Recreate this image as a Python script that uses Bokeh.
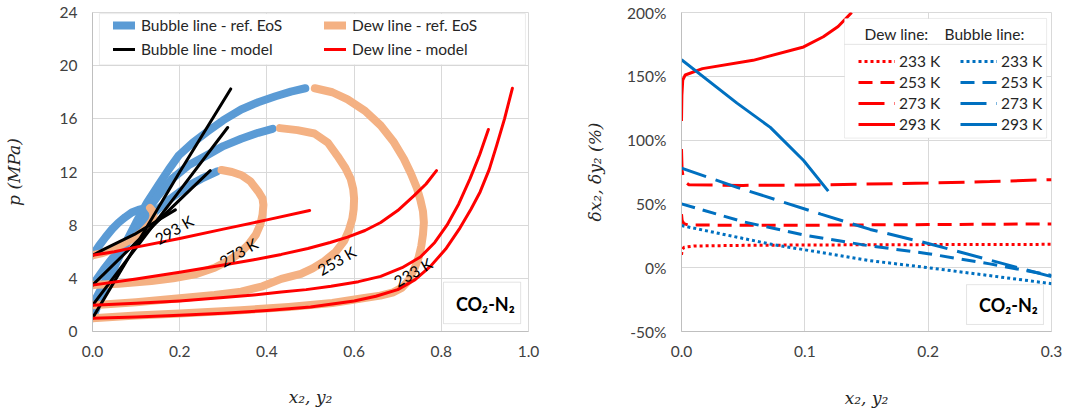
from bokeh.plotting import figure
from bokeh.models import (Legend, LegendItem, BoxAnnotation, Label, FixedTicker,
                          PrintfTickFormatter, Range1d)
from bokeh.layouts import row
from bokeh.embed import file_html
from bokeh.resources import INLINE

# ================= Panel a : p vs x2, y2 (MPa) =================
# Bubble line - reference EoS
bub_ref_233_x = [0.0, 0.025, 0.05, 0.075, 0.10, 0.125, 0.151, 0.175, 0.198, 0.23, 0.262, 0.30, 0.341, 0.38, 0.42, 0.455, 0.488]
bub_ref_233_p = [1.0, 3.0, 4.8, 6.6, 8.2, 9.7, 11.0, 12.2, 13.25, 14.2, 15.0, 15.9, 16.7, 17.25, 17.7, 18.05, 18.3]
bub_ref_253_x = [0.0, 0.025, 0.05, 0.075, 0.10, 0.125, 0.15, 0.183, 0.22, 0.262, 0.30, 0.341, 0.38, 0.413]
bub_ref_253_p = [1.97, 3.55, 5.0, 6.45, 7.8, 9.05, 10.2, 11.5, 12.5, 13.25, 13.95, 14.5, 14.95, 15.25]
bub_ref_273_x = [0.0, 0.025, 0.05, 0.075, 0.10, 0.125, 0.15, 0.175, 0.20, 0.225, 0.25, 0.286]
bub_ref_273_p = [3.49, 4.65, 5.7, 6.7, 7.6, 8.45, 9.2, 9.9, 10.5, 11.05, 11.5, 12.05]
bub_ref_293_x = [0.0, 0.015, 0.03, 0.045, 0.06, 0.075, 0.09, 0.105, 0.123]
bub_ref_293_p = [5.73, 6.45, 7.1, 7.7, 8.2, 8.6, 8.95, 9.15, 9.3]

# Dew line - reference EoS
dew_ref_233_x = [0.51, 0.55, 0.585, 0.625, 0.661, 0.69, 0.714, 0.73, 0.744, 0.752, 0.758, 0.76, 0.758, 0.754,
                 0.748, 0.738, 0.725, 0.71, 0.69, 0.66, 0.62, 0.55, 0.45, 0.34, 0.2, 0.1, 0.0]
dew_ref_233_p = [18.3, 18.0, 17.46, 16.6, 15.5, 14.3, 13.0, 11.9, 10.8, 9.9, 9.04, 8.2, 7.3, 6.4,
                 5.57, 4.7, 3.84, 3.3, 2.95, 2.7, 2.5, 2.15, 1.85, 1.6, 1.35, 1.2, 1.0]
dew_ref_253_x = [0.43, 0.47, 0.509, 0.54, 0.562, 0.58, 0.592, 0.598, 0.60, 0.599, 0.596, 0.588, 0.577, 0.558,
                 0.532, 0.505, 0.478, 0.433, 0.39, 0.341, 0.28, 0.2, 0.1, 0.0]
dew_ref_253_p = [15.3, 15.15, 14.9, 14.2, 13.2, 12.3, 11.5, 10.7, 10.0, 9.2, 8.5, 7.6, 6.8, 6.0,
                 5.3, 4.75, 4.33, 3.96, 3.4, 3.0, 2.75, 2.5, 2.2, 1.97]
dew_ref_273_x = [0.296, 0.32, 0.342, 0.362, 0.381, 0.39, 0.392, 0.39, 0.385, 0.375, 0.358, 0.338, 0.312, 0.28,
                 0.235, 0.185, 0.135, 0.06, 0.0]
dew_ref_273_p = [12.15, 12.0, 11.76, 11.3, 10.5, 10.0, 9.53, 8.8, 8.05, 7.3, 6.56, 5.9, 5.33, 4.8,
                 4.3, 4.0, 3.8, 3.6, 3.49]
dew_ref_293_x = [0.132, 0.138, 0.14, 0.137, 0.128, 0.115, 0.096, 0.075, 0.058, 0.04, 0.02, 0.0]
dew_ref_293_p = [9.3, 9.05, 8.7, 8.35, 7.95, 7.5, 7.06, 6.7, 6.4, 6.1, 5.88, 5.73]

# Bubble line - model
bub_mod_233_x = [0.0, 0.1, 0.2, 0.317]
bub_mod_233_p = [1.0, 6.5, 12.0, 18.25]
bub_mod_253_x = [0.0, 0.1, 0.2, 0.31]
bub_mod_253_p = [1.97, 6.3, 10.6, 15.35]
bub_mod_273_x = [0.0, 0.1, 0.2, 0.27]
bub_mod_273_p = [3.49, 6.7, 9.9, 12.1]
bub_mod_293_x = [0.0, 0.027, 0.096, 0.19]
bub_mod_293_p = [5.73, 6.2, 7.3, 9.15]

# Dew line - model
dew_mod_233_x = [0.0, 0.1, 0.2, 0.3, 0.4, 0.5, 0.6, 0.65, 0.7, 0.74, 0.775, 0.81, 0.843, 0.868, 0.889, 0.91, 0.927, 0.945, 0.963]
dew_mod_233_p = [1.0, 1.1, 1.22, 1.38, 1.58, 1.85, 2.3, 2.65, 3.15, 3.9, 4.9, 6.2, 7.8, 9.2, 10.5, 12.2, 14.0, 16.0, 18.3]
dew_mod_253_x = [0.0, 0.1, 0.2, 0.3, 0.37, 0.433, 0.49, 0.547, 0.61, 0.661, 0.71, 0.752, 0.785, 0.813, 0.84, 0.866, 0.888, 0.908]
dew_mod_253_p = [1.97, 2.12, 2.3, 2.55, 2.75, 2.97, 3.15, 3.4, 3.75, 4.15, 4.8, 5.6, 6.7, 8.0, 9.6, 11.5, 13.3, 15.2]
dew_mod_273_x = [0.0, 0.1, 0.2, 0.3, 0.37, 0.433, 0.494, 0.545, 0.585, 0.625, 0.661, 0.70, 0.737, 0.765, 0.789]
dew_mod_273_p = [3.49, 3.95, 4.45, 5.0, 5.4, 5.8, 6.25, 6.7, 7.1, 7.6, 8.2, 9.1, 10.2, 11.1, 12.1]
dew_mod_293_x = [0.0, 0.05, 0.1, 0.2, 0.3, 0.4, 0.498]
dew_mod_293_p = [5.73, 6.0, 6.35, 7.0, 7.7, 8.4, 9.1]

temp_labels = ["293 K", "273 K", "253 K", "233 K"]
temp_label_x = [0.187, 0.335, 0.56, 0.735]
temp_label_p = [7.65, 5.94, 5.33, 4.46]

# ================= Panel b : deviations (%) =================
dew_dev_233_x = [0.0, 0.0005, 0.002, 0.01, 0.05, 0.1, 0.2, 0.3]
dew_dev_233_y = [10, 14, 16, 17, 17.5, 17.8, 18.1, 18.3]
dew_dev_253_x = [0.0, 0.0005, 0.002, 0.005, 0.05, 0.1, 0.2, 0.3]
dew_dev_253_y = [42, 37, 34.5, 33.5, 33.2, 33.3, 33.8, 34.3]
dew_dev_273_x = [0.0, 0.0005, 0.002, 0.006, 0.05, 0.1, 0.15, 0.2, 0.25, 0.3]
dew_dev_273_y = [93, 76, 68, 65, 64.5, 64.8, 65.5, 66.3, 67.5, 69]
dew_dev_293_x = [0.0, 0.0003, 0.001, 0.003, 0.017, 0.058, 0.099, 0.115, 0.127, 0.138]
dew_dev_293_y = [115, 135, 147, 151, 156, 162.5, 173, 181, 189, 200]

bub_dev_233_x = [0.0, 0.072, 0.153, 0.2, 0.3]
bub_dev_233_y = [33, 18.5, 5.5, 0, -12.5]
bub_dev_253_x = [0.0, 0.05, 0.1, 0.15, 0.2, 0.25, 0.3]
bub_dev_253_y = [50, 36, 25.5, 17.5, 11, 3, -6]
bub_dev_273_x = [0.0, 0.045, 0.113, 0.153, 0.2, 0.25, 0.3]
bub_dev_273_y = [78, 63, 42, 30, 19, 6, -7]
bub_dev_293_x = [0.0, 0.045, 0.072, 0.099, 0.119]
bub_dev_293_y = [163, 129, 110, 84, 60]

legend_temps = ["233 K", "253 K", "273 K", "293 K"]

# ---------------- styles ----------------
BLUE_REF = "#5B9BD5"
ORANGE_REF = "#F4B183"
RED = "#FF0000"
BLUE = "#0070C0"
GRID = "#D9D9D9"
AXIS = "#BFBFBF"
TICK_FONT = "Lato"
TICK_SIZE = "15.5px"
TXT = "#404040"
dashes = ["3 3", "14 8", "26 10", "solid"]


def style(p, ylabel_standoff, xlabel_standoff):
    for ax in (p.xaxis[0], p.yaxis[0]):
        ax.axis_line_color = AXIS
        ax.major_tick_line_color = None
        ax.minor_tick_line_color = None
        ax.major_tick_out = 0
        ax.major_tick_in = 0
        ax.major_label_text_font = TICK_FONT
        ax.major_label_text_font_size = TICK_SIZE
        ax.major_label_text_color = TXT
        ax.major_label_standoff = 14
        ax.axis_label_text_font = "DejaVu Serif"
        ax.axis_label_text_font_style = "italic"
        ax.axis_label_text_font_size = "17px"
        ax.axis_label_text_color = "#262626"
    p.yaxis[0].major_label_standoff = 15
    p.yaxis[0].axis_label_standoff = ylabel_standoff
    p.xaxis[0].axis_label_standoff = xlabel_standoff
    p.xaxis[0].formatter = PrintfTickFormatter(format="%.1f")
    p.xgrid.grid_line_color = GRID
    p.ygrid.grid_line_color = GRID
    p.outline_line_color = GRID
    p.background_fill_color = "white"
    p.border_fill_color = "white"


# ================= figure a =================
pa = figure(width=540, height=417, x_range=Range1d(0, 1), y_range=Range1d(0, 24),
            output_backend="svg", toolbar_location=None,
            min_border_left=92, min_border_right=12, min_border_top=12, min_border_bottom=82)
pa.xaxis.ticker = FixedTicker(ticks=[0, 0.2, 0.4, 0.6, 0.8, 1.0])
pa.yaxis.ticker = FixedTicker(ticks=[0, 4, 8, 12, 16, 20, 24])
pa.xaxis.axis_label = "x₂, y₂"
pa.yaxis.axis_label = "p (MPa)"
style(pa, 33, 27)

bub_ref = [(bub_ref_233_x, bub_ref_233_p), (bub_ref_253_x, bub_ref_253_p),
           (bub_ref_273_x, bub_ref_273_p), (bub_ref_293_x, bub_ref_293_p)]
dew_ref = [(dew_ref_233_x, dew_ref_233_p), (dew_ref_253_x, dew_ref_253_p),
           (dew_ref_273_x, dew_ref_273_p), (dew_ref_293_x, dew_ref_293_p)]
bub_mod = [(bub_mod_233_x, bub_mod_233_p), (bub_mod_253_x, bub_mod_253_p),
           (bub_mod_273_x, bub_mod_273_p), (bub_mod_293_x, bub_mod_293_p)]
dew_mod = [(dew_mod_233_x, dew_mod_233_p), (dew_mod_253_x, dew_mod_253_p),
           (dew_mod_273_x, dew_mod_273_p), (dew_mod_293_x, dew_mod_293_p)]

r_bub_ref = [pa.line(xs, ps, line_width=8, color=BLUE_REF, line_cap="round", line_join="round")
             for xs, ps in bub_ref]
r_dew_ref = [pa.line(xs, ps, line_width=8, color=ORANGE_REF, line_cap="round", line_join="round")
             for xs, ps in dew_ref]
r_bub_mod = [pa.line(xs, ps, line_width=3, color="black", line_cap="round", line_join="round")
             for xs, ps in bub_mod]
r_dew_mod = [pa.line(xs, ps, line_width=3, color=RED, line_cap="round", line_join="round")
             for xs, ps in dew_mod]

for t, lx, lp in zip(temp_labels, temp_label_x, temp_label_p):
    pa.add_layout(Label(x=lx, y=lp, text=t, angle=30, angle_units="deg",
                        text_align="center", text_baseline="middle",
                        text_font=TICK_FONT, text_font_size="15.5px", text_color="black"))

pa.add_layout(BoxAnnotation(left=0.016, right=0.993, top=23.92, bottom=20.06,
                            fill_color="white", fill_alpha=1, line_color=AXIS, line_width=1))
leg_a = Legend(items=[LegendItem(label="Bubble line - ref. EoS", renderers=[r_bub_ref[0]]),
                      LegendItem(label="Bubble line - model", renderers=[r_bub_mod[0]]),
                      LegendItem(label="Dew line - ref. EoS", renderers=[r_dew_ref[0]]),
                      LegendItem(label="Dew line - model", renderers=[r_dew_mod[0]])],
               ncols=2, orientation="vertical", location=(21, 273),
               padding=0, margin=0, spacing=6, glyph_width=22, glyph_height=18,
               label_height=18, label_width=177, label_standoff=6,
               border_line_color=None, background_fill_alpha=0,
               label_text_font=TICK_FONT, label_text_font_size="15.5px",
               label_text_color="#262626")
pa.add_layout(leg_a)

pa.add_layout(BoxAnnotation(left=0.805, right=0.982, top=3.71, bottom=0.59,
                            fill_color="white", fill_alpha=1, line_color="#A6A6A6", line_width=1))
pa.add_layout(Label(x=0.901, y=2.1, text="CO₂-N₂", text_align="center", text_baseline="middle",
                    text_font=TICK_FONT, text_font_style="bold", text_font_size="18px",
                    text_color="black"))
pa.add_layout(Label(x=-0.181, y=23.9, text="a", text_align="center", text_baseline="middle",
                    text_font=TICK_FONT, text_font_size="19px", text_color="black"))

# ================= figure b =================
pb = figure(width=529, height=417, x_range=Range1d(0, 0.3), y_range=Range1d(-50, 200),
            output_backend="svg", toolbar_location=None,
            min_border_left=141, min_border_right=18, min_border_top=11, min_border_bottom=86)
pb.xaxis.ticker = FixedTicker(ticks=[0, 0.1, 0.2, 0.3])
pb.yaxis.ticker = FixedTicker(ticks=[-50, 0, 50, 100, 150, 200])
pb.xaxis.axis_label = "x₂, y₂"
pb.yaxis.axis_label = "δx₂, δy₂ (%)"
style(pb, 19, 28)
pb.yaxis.formatter = PrintfTickFormatter(format="%d%%")

dew_dev = [(dew_dev_233_x, dew_dev_233_y), (dew_dev_253_x, dew_dev_253_y),
           (dew_dev_273_x, dew_dev_273_y), (dew_dev_293_x, dew_dev_293_y)]
bub_dev = [(bub_dev_233_x, bub_dev_233_y), (bub_dev_253_x, bub_dev_253_y),
           (bub_dev_273_x, bub_dev_273_y), (bub_dev_293_x, bub_dev_293_y)]

dew_r, bub_r = [], []
for (xs, ys), d in zip(dew_dev, dashes):
    dew_r.append(pb.line(xs, ys, line_width=3, color=RED, line_dash=d))
for (xs, ys), d in zip(bub_dev, dashes):
    bub_r.append(pb.line(xs, ys, line_width=3, color=BLUE, line_dash=d))

pb.add_layout(BoxAnnotation(left=0.1322, right=0.296, top=195.3, bottom=175.0,
                            fill_color="white", fill_alpha=1, line_color=AXIS, line_width=1))
pb.add_layout(BoxAnnotation(left=0.1322, right=0.296, top=175.0, bottom=101.6,
                            fill_color="white", fill_alpha=1, line_color=AXIS, line_width=1))
pb.add_layout(Label(x=0.1484, y=182.8, text="Dew line:", text_align="left", text_baseline="middle",
                    text_font=TICK_FONT, text_font_size="15.5px", text_color="#262626"))
pb.add_layout(Label(x=0.2133, y=182.8, text="Bubble line:", text_align="left", text_baseline="middle",
                    text_font=TICK_FONT, text_font_size="15.5px", text_color="#262626"))

common = dict(orientation="vertical", padding=0, margin=0, spacing=3, glyph_width=37,
              glyph_height=18, label_height=18, label_standoff=4,
              border_line_color=None, background_fill_alpha=0,
              label_text_font=TICK_FONT, label_text_font_size="15.5px",
              label_text_color="#262626")
pb.add_layout(Legend(items=[LegendItem(label=t, renderers=[r]) for t, r in zip(legend_temps, dew_r)],
                     location=(177, 198), **common))
pb.add_layout(Legend(items=[LegendItem(label=t, renderers=[r]) for t, r in zip(legend_temps, bub_r)],
                     location=(279, 198), **common))

pb.add_layout(BoxAnnotation(left=0.2311, right=0.2935, top=-13.3, bottom=-44.5,
                            fill_color="white", fill_alpha=1, line_color="#A6A6A6", line_width=1))
pb.add_layout(Label(x=0.2651, y=-29.5, text="CO₂-N₂", text_align="center", text_baseline="middle",
                    text_font=TICK_FONT, text_font_style="bold", text_font_size="18px",
                    text_color="black"))
pb.add_layout(Label(x=-0.0754, y=196.9, text="b", text_align="center", text_baseline="middle",
                    text_font=TICK_FONT, text_font_size="19px", text_color="black"))

layout = row(pa, pb)
open("out.html", "w").write(file_html(layout, INLINE))
